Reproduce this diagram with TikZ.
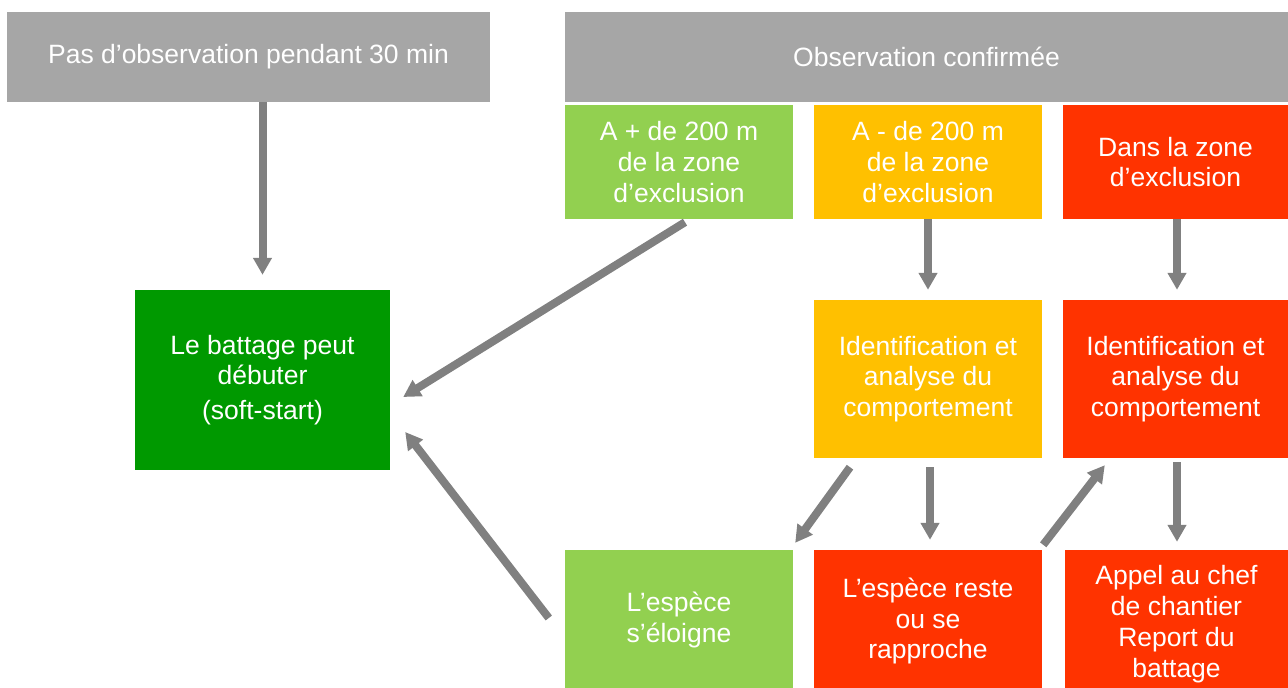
\documentclass[tikz,border=0pt]{standalone}
\usepackage{fontspec}
\setmainfont{Liberation Sans}
\usetikzlibrary{arrows.meta, positioning}

\definecolor{hdgray}{HTML}{A6A6A6}
\definecolor{arrgray}{HTML}{808080}
\definecolor{lightgreen}{HTML}{92D050}
\definecolor{amber}{HTML}{FFC000}
\definecolor{alertred}{HTML}{FF3300}
\definecolor{gogreen}{HTML}{009900}

\begin{document}
\begin{tikzpicture}[
  x=1pt, y=-1pt,
  box/.style={rectangle, inner sep=0pt, text=white, align=center,
    font=\fontsize{26.5}{30.8}\selectfont},
  arr/.style={draw=arrgray, line width=8pt,
    -{Triangle[length=17pt, width=18pt]}},
]
  \useasboundingbox (0,0) rectangle (1288,688);
  \clip (0,0) rectangle (1288,688);

  % headers
  \node[box, fill=hdgray, minimum width=483pt, minimum height=90pt] (nobs) at (248.5,57)
    {Pas d’observation pendant 30 min};
  \node[box, fill=hdgray, minimum width=723pt, minimum height=90pt] (obs) at (926.5,57)
    {Observation confirmée};

  % distance classes
  \node[box, fill=lightgreen, minimum width=228pt, minimum height=114pt] (far) at (679,162)
    {A + de 200 m\\de la zone\\d’exclusion};
  \node[box, fill=amber, minimum width=228pt, minimum height=114pt] (near) at (928,162)
    {A - de 200 m\\de la zone\\d’exclusion};
  \node[box, fill=alertred, minimum width=225pt, minimum height=114pt] (in) at (1175.5,162)
    {Dans la zone\\d’exclusion};

  % outcomes
  \node[box, fill=gogreen, minimum width=255pt, minimum height=180pt] (start) at (262.5,380)
    {Le battage peut\\débuter\\[4pt](soft-start)};
  \node[box, fill=amber, minimum width=228pt, minimum height=158pt] (nearid) at (928,379)
    {Identification et\\analyse du\\comportement};
  \node[box, fill=alertred, minimum width=225pt, minimum height=158pt] (inid) at (1175.5,379)
    {Identification et\\analyse du\\comportement};
  \node[box, fill=lightgreen, minimum width=228pt, minimum height=140pt] (gone) at (679,620)
    {L’espèce\\s’éloigne};
  \node[box, fill=alertred, minimum width=228pt, minimum height=142pt] (stays) at (928,621)
    {L’espèce reste\\ou se\\rapproche};
  \node[box, fill=alertred, minimum width=223pt, minimum height=148pt] (call) at (1176.5,624)
    {Appel au chef\\de chantier\\Report du\\battage};

  % arrows
  \draw[arr] (nobs.south -| start) -- ([yshift=15pt]start.north);
  \draw[arr] ([xshift=6pt,yshift=-3pt]far.south) -- ([xshift=13pt,yshift=-17pt]start.east);
  \draw[arr] (near.south) -- ([yshift=10pt]nearid.north);
  \draw[arr] ([xshift=1.5pt]in.south) -- ([xshift=1.5pt,yshift=10pt]inid.north);
  \draw[arr] ([xshift=-78pt,yshift=-9pt]nearid.south) -- ([xshift=2pt,yshift=7pt]gone.north east);
  \draw[arr] ([xshift=2pt,yshift=-9pt]nearid.south) -- ([xshift=2pt,yshift=10pt]stays.north);
  \draw[arr] ([xshift=1pt,yshift=5pt]stays.north east) -- ([xshift=42pt,yshift=-7pt]inid.south west);
  \draw[arr] ([xshift=1.5pt,yshift=-4pt]inid.south) -- ([xshift=0.5pt,yshift=8pt]call.north);
  \draw[arr] ([xshift=-16pt,yshift=2pt]gone.west) -- ([xshift=15pt,yshift=-52pt]start.east);
\end{tikzpicture}
\end{document}
